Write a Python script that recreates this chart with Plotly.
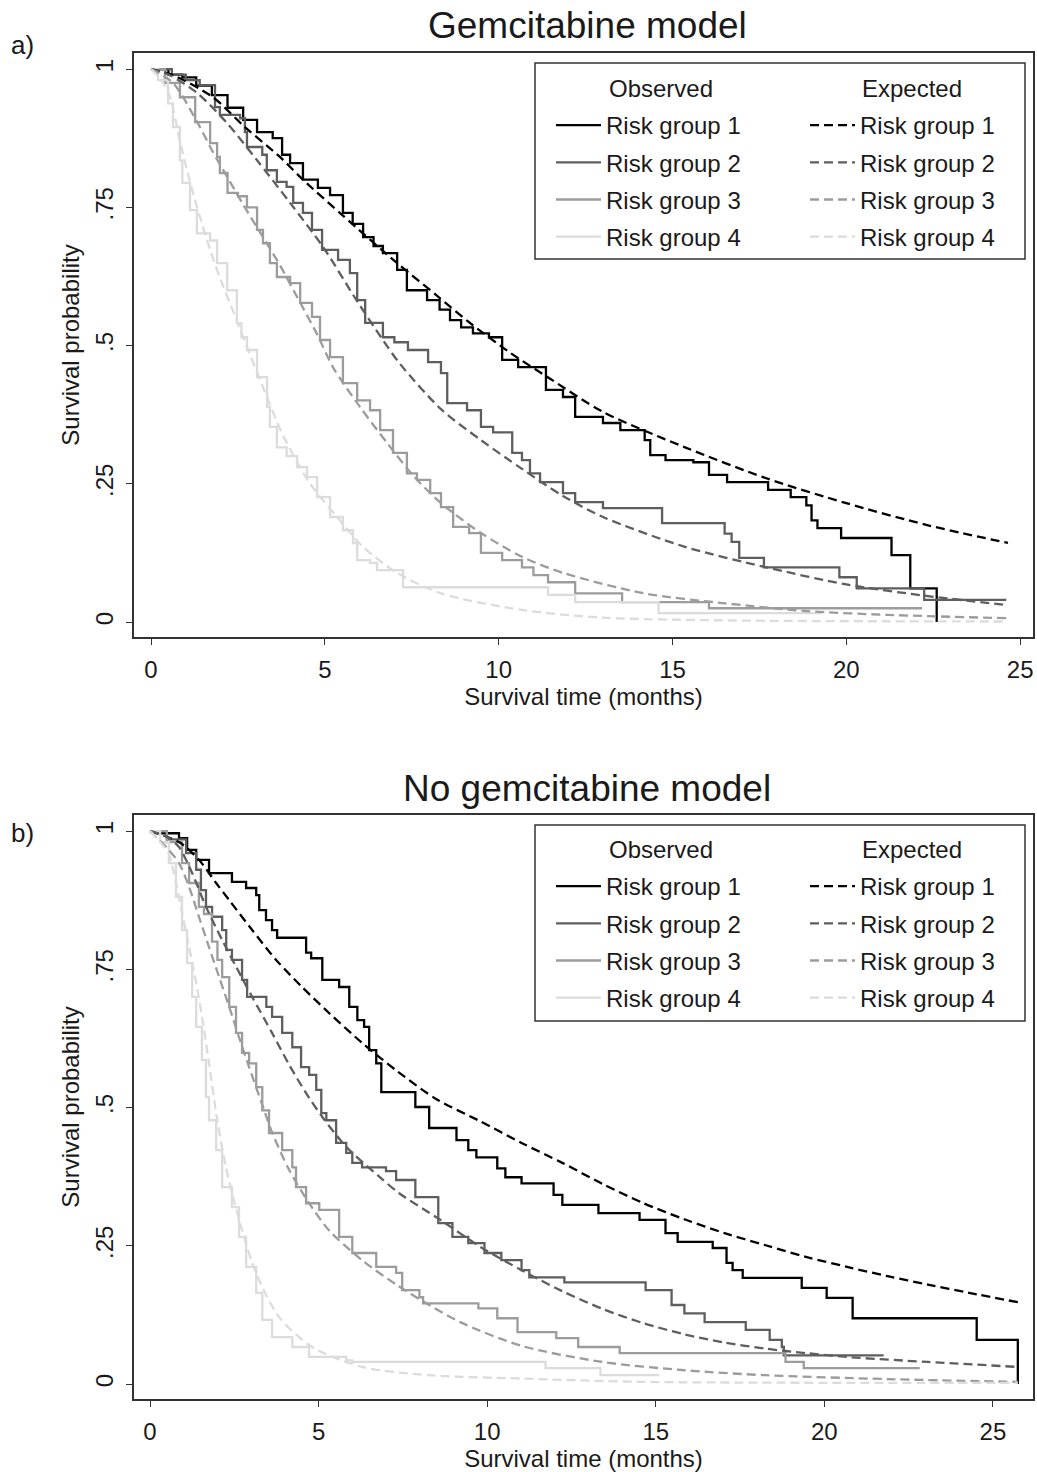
import plotly.graph_objects as go

# ---------------- data ----------------
time_ticks = [0, 5, 10, 15, 20, 25]
prob_ticks = [0, 0.25, 0.5, 0.75, 1]
prob_labels = ["0", ".25", ".5", ".75", "1"]
group_names = ["Risk group 1", "Risk group 2", "Risk group 3", "Risk group 4"]
panel_titles = ["Gemcitabine model", "No gemcitabine model"]
panel_letters = ["a)", "b)"]
x_title = "Survival time (months)"
y_title = "Survival probability"
obs_header = "Observed"
exp_header = "Expected"

# Panel a (Gemcitabine model) - observed Kaplan-Meier: (time, survival after step)
gem_obs_1 = [(0, 1), (0.5, 0.99), (0.9, 0.985), (1.3, 0.97), (1.75, 0.953), (2.2, 0.93), (2.65, 0.908),
             (3.05, 0.886), (3.5, 0.875), (3.77, 0.845), (4.0, 0.83), (4.37, 0.80), (4.8, 0.785), (5.15, 0.772),
             (5.52, 0.74), (5.8, 0.72), (6.1, 0.696), (6.4, 0.68), (6.67, 0.667), (7.08, 0.637), (7.36, 0.60),
             (7.94, 0.582), (8.3, 0.565), (8.6, 0.546), (8.92, 0.533), (9.26, 0.522), (9.72, 0.515), (10.1, 0.474),
             (10.56, 0.461), (11.36, 0.42), (11.85, 0.407), (12.2, 0.371), (13.0, 0.36), (13.5, 0.347),
             (14.2, 0.329), (14.36, 0.302), (14.8, 0.293), (15.6, 0.289), (16.05, 0.266), (16.57, 0.253),
             (17.75, 0.239), (18.4, 0.226), (18.85, 0.211), (19.0, 0.184), (19.17, 0.17), (19.85, 0.152),
             (21.3, 0.121), (21.84, 0.061), (22.6, 0.0)]
gem_obs_2 = [(0, 1), (0.6, 0.99), (1.0, 0.98), (1.4, 0.971), (1.84, 0.931), (1.98, 0.917), (2.56, 0.911),
             (2.7, 0.886), (2.76, 0.859), (3.2, 0.845), (3.33, 0.817), (3.62, 0.796), (3.9, 0.787), (4.09, 0.758),
             (4.37, 0.74), (4.63, 0.709), (4.92, 0.673), (5.38, 0.655), (5.72, 0.631), (5.93, 0.582), (6.16, 0.541),
             (6.67, 0.515), (7.0, 0.506), (7.39, 0.492), (7.97, 0.47), (8.34, 0.45), (8.52, 0.396), (9.09, 0.383),
             (9.49, 0.353), (9.84, 0.343), (10.39, 0.306), (10.67, 0.293), (10.9, 0.269), (11.19, 0.253),
             (11.85, 0.233), (12.2, 0.217), (13.0, 0.206), (14.7, 0.179), (16.5, 0.16), (16.7, 0.145),
             (16.92, 0.116), (17.63, 0.099), (19.8, 0.081), (20.3, 0.061), (22.24, 0.04), (24.6, 0.04)]
gem_obs_3 = [(0, 1), (0.4, 0.975), (0.83, 0.949), (1.27, 0.904), (1.7, 0.866), (1.9, 0.841), (1.98, 0.812),
             (2.2, 0.776), (2.5, 0.77), (2.76, 0.75), (3.05, 0.709), (3.22, 0.685), (3.42, 0.649), (3.62, 0.624),
             (4.0, 0.613), (4.29, 0.577), (4.63, 0.552), (4.86, 0.51), (5.15, 0.479), (5.52, 0.432), (5.93, 0.401),
             (6.3, 0.383), (6.59, 0.347), (6.96, 0.306), (7.36, 0.269), (7.65, 0.257), (8.03, 0.233), (8.34, 0.208),
             (8.69, 0.172), (9.15, 0.161), (9.49, 0.125), (10.1, 0.112), (10.67, 0.099), (11.0, 0.085),
             (11.42, 0.072), (12.2, 0.052), (13.55, 0.036), (16.05, 0.025), (22.18, 0.025)]
gem_obs_4 = [(0, 1), (0.2, 0.98), (0.49, 0.938), (0.63, 0.895), (0.83, 0.835), (0.9, 0.794), (1.12, 0.745),
             (1.32, 0.703), (1.7, 0.69), (1.9, 0.649), (2.19, 0.6), (2.47, 0.54), (2.6, 0.515), (2.76, 0.492),
             (3.05, 0.443), (3.34, 0.389), (3.42, 0.353), (3.62, 0.316), (3.9, 0.3), (4.2, 0.28), (4.49, 0.262),
             (4.78, 0.226), (5.15, 0.19), (5.52, 0.166), (5.81, 0.143), (5.93, 0.112), (6.3, 0.107), (6.5, 0.094),
             (7.25, 0.063), (11.42, 0.049), (12.2, 0.036), (14.6, 0.016), (19.3, 0.016)]

# Panel a - expected (model-predicted) survival
gem_exp_1 = [(0, 1), (0.63, 0.989), (1.78, 0.949), (2.7, 0.895), (3.71, 0.841), (4.37, 0.800), (5.52, 0.735),
             (7.08, 0.649), (8.23, 0.59), (9.09, 0.545), (10.33, 0.487), (11.48, 0.44), (13.0, 0.38),
             (15.36, 0.316), (17.7, 0.26), (20.0, 0.215), (22.35, 0.175), (24.65, 0.143)]
gem_exp_2 = [(0, 1), (0.5, 0.99), (1.32, 0.957), (2.19, 0.902), (3.05, 0.835), (4.0, 0.758), (4.95, 0.678),
             (5.93, 0.58), (6.67, 0.51), (7.16, 0.467), (8.34, 0.385), (9.49, 0.329), (10.67, 0.277),
             (11.85, 0.228), (13.0, 0.19), (15.36, 0.136), (17.7, 0.099), (20.0, 0.068), (22.35, 0.047),
             (24.6, 0.031)]
gem_exp_3 = [(0, 1), (0.63, 0.975), (1.32, 0.905), (1.78, 0.85), (2.19, 0.805), (2.65, 0.755), (3.22, 0.696),
             (3.71, 0.645), (4.2, 0.588), (4.78, 0.52), (5.24, 0.46), (6.01, 0.389), (6.79, 0.324), (7.54, 0.265),
             (8.34, 0.215), (9.49, 0.161), (10.67, 0.118), (11.85, 0.089), (14.18, 0.052), (16.5, 0.034),
             (18.84, 0.02), (21.2, 0.013), (24.6, 0.007)]
gem_exp_4 = [(0, 1), (0.3, 0.98), (0.55, 0.949), (0.83, 0.87), (1.12, 0.796), (1.41, 0.732), (1.7, 0.673),
             (2.07, 0.608), (2.47, 0.545), (2.65, 0.515), (3.22, 0.425), (3.8, 0.337), (4.57, 0.251), (5.35, 0.19),
             (6.1, 0.136), (7.08, 0.089), (8.34, 0.052), (10.67, 0.022), (13.0, 0.008), (16.5, 0.003),
             (24.6, 0.001)]

# Panel b (No gemcitabine model) - observed
nogem_obs_1 = [(0, 1), (0.36, 0.996), (0.86, 0.987), (1.1, 0.966), (1.37, 0.948), (1.75, 0.924), (2.43, 0.908),
               (2.85, 0.897), (3.15, 0.884), (3.24, 0.857), (3.44, 0.839), (3.62, 0.821), (3.77, 0.807),
               (4.63, 0.78), (4.78, 0.77), (5.11, 0.731), (5.61, 0.718), (5.91, 0.682), (6.15, 0.658),
               (6.35, 0.646), (6.5, 0.604), (6.71, 0.58), (6.86, 0.528), (7.87, 0.501), (8.28, 0.463),
               (9.09, 0.441), (9.44, 0.423), (9.68, 0.41), (10.3, 0.39), (10.54, 0.374), (11.02, 0.363),
               (11.97, 0.342), (12.23, 0.324), (13.3, 0.309), (14.52, 0.297), (15.29, 0.273), (15.65, 0.257),
               (16.69, 0.246), (17.1, 0.219), (17.28, 0.206), (17.58, 0.192), (19.33, 0.174), (20.07, 0.156),
               (20.84, 0.119), (24.52, 0.08), (25.74, 0.0)]
nogem_obs_2 = [(0, 1), (0.5, 0.985), (1.07, 0.96), (1.37, 0.93), (1.51, 0.893), (1.66, 0.863), (1.84, 0.845),
               (2.14, 0.821), (2.26, 0.785), (2.43, 0.767), (2.73, 0.731), (2.88, 0.70), (3.45, 0.682),
               (3.62, 0.664), (3.92, 0.635), (4.22, 0.609), (4.48, 0.573), (4.72, 0.559), (4.93, 0.532),
               (5.08, 0.49), (5.23, 0.477), (5.52, 0.436), (5.82, 0.418), (6.0, 0.40), (6.29, 0.392), (7.0, 0.385),
               (7.3, 0.369), (7.87, 0.338), (8.55, 0.291), (8.97, 0.266), (9.44, 0.255), (9.92, 0.237),
               (10.42, 0.224), (11.02, 0.206), (11.25, 0.193), (12.29, 0.184), (14.7, 0.17), (15.47, 0.143),
               (15.85, 0.128), (16.45, 0.112), (17.67, 0.098), (18.38, 0.08), (18.74, 0.067), (18.8, 0.052),
               (21.76, 0.052)]
nogem_obs_3 = [(0, 1), (0.5, 0.98), (0.95, 0.942), (1.16, 0.906), (1.45, 0.863), (1.6, 0.85), (1.84, 0.80),
               (2.0, 0.767), (2.14, 0.736), (2.35, 0.682), (2.55, 0.635), (2.73, 0.599), (2.94, 0.58),
               (3.15, 0.537), (3.33, 0.495), (3.53, 0.454), (3.92, 0.423), (4.22, 0.392), (4.33, 0.356),
               (4.63, 0.327), (5.02, 0.315), (5.61, 0.266), (6.0, 0.237), (6.71, 0.212), (7.3, 0.201),
               (7.48, 0.17), (7.99, 0.157), (8.1, 0.146), (9.74, 0.137), (10.3, 0.119), (10.9, 0.094),
               (12.05, 0.083), (12.7, 0.067), (13.93, 0.056), (18.85, 0.04), (19.39, 0.029), (22.83, 0.029)]
nogem_obs_4 = [(0, 1), (0.3, 0.98), (0.56, 0.942), (0.77, 0.881), (0.95, 0.821), (1.1, 0.761), (1.25, 0.7),
               (1.37, 0.646), (1.54, 0.586), (1.66, 0.519), (1.75, 0.477), (1.96, 0.423), (2.14, 0.356),
               (2.43, 0.32), (2.64, 0.266), (2.85, 0.212), (3.15, 0.165), (3.33, 0.116), (3.62, 0.085),
               (4.22, 0.067), (4.72, 0.049), (5.82, 0.043), (6.0, 0.04), (11.73, 0.029), (13.36, 0.016),
               (15.11, 0.016)]

# Panel b - expected
nogem_exp_1 = [(0, 1), (0.86, 0.98), (1.45, 0.948), (1.96, 0.906), (2.35, 0.875), (3.03, 0.821), (3.74, 0.767),
               (4.51, 0.718), (5.31, 0.671), (6.29, 0.617), (7.35, 0.565), (8.5, 0.515), (9.8, 0.475),
               (11.02, 0.436), (12.23, 0.4), (13.42, 0.362), (14.64, 0.327), (15.85, 0.298), (17.04, 0.273),
               (18.26, 0.251), (19.45, 0.23), (20.67, 0.212), (21.88, 0.195), (23.07, 0.18), (24.29, 0.165),
               (25.74, 0.148)]
nogem_exp_2 = [(0, 1), (0.5, 0.99), (0.86, 0.971), (1.25, 0.924), (1.66, 0.863), (2.14, 0.803), (2.55, 0.755),
               (3.03, 0.70), (3.62, 0.635), (4.13, 0.577), (4.63, 0.526), (5.11, 0.483), (5.82, 0.429),
               (6.8, 0.375), (7.39, 0.345), (8.61, 0.297), (9.8, 0.248), (11.02, 0.206), (12.23, 0.168),
               (13.42, 0.136), (14.64, 0.11), (15.85, 0.09), (17.04, 0.075), (18.26, 0.064), (19.45, 0.056),
               (20.67, 0.049), (23.07, 0.04), (25.74, 0.031)]
nogem_exp_3 = [(0, 1), (0.5, 0.97), (0.86, 0.942), (1.16, 0.899), (1.45, 0.845), (1.75, 0.79), (2.05, 0.736),
               (2.35, 0.682), (2.64, 0.627), (2.94, 0.573), (3.33, 0.505), (3.62, 0.455), (4.13, 0.387),
               (4.72, 0.327), (5.31, 0.278), (6.29, 0.224), (7.3, 0.18), (8.28, 0.143), (9.2, 0.112),
               (11.02, 0.069), (13.42, 0.04), (15.85, 0.025), (18.26, 0.016), (21.88, 0.009), (25.74, 0.004)]
nogem_exp_4 = [(0, 1), (0.3, 0.98), (0.56, 0.958), (0.77, 0.906), (0.95, 0.852), (1.16, 0.79), (1.37, 0.725),
               (1.54, 0.665), (1.75, 0.58), (2.0, 0.475), (2.26, 0.39), (2.73, 0.278), (3.15, 0.2), (3.83, 0.121),
               (4.81, 0.067), (6.29, 0.031), (8.28, 0.016), (11.02, 0.01), (14.64, 0.004), (25.74, 0.002)]

gem_observed = [gem_obs_1, gem_obs_2, gem_obs_3, gem_obs_4]
gem_expected = [gem_exp_1, gem_exp_2, gem_exp_3, gem_exp_4]
nogem_observed = [nogem_obs_1, nogem_obs_2, nogem_obs_3, nogem_obs_4]
nogem_expected = [nogem_exp_1, nogem_exp_2, nogem_exp_3, nogem_exp_4]

# ---------------- styling ----------------
W, H = 1037, 1472
FONT = "Arial, 'Liberation Sans', sans-serif"
TXT = "#1a1a1a"
colors = ["#000000", "#5e5e5e", "#9c9c9c", "#dcdcdc"]
LW = 2.3
DASH = "9px,5px"


def px_x(p):
    return p / W


def px_y(p):
    return 1 - p / H


fig = go.Figure()

panels = [
    dict(obs=gem_observed, exp=gem_expected, xa="x", ya="y", lg_obs="legend", lg_exp="legend2", tag="a"),
    dict(obs=nogem_observed, exp=nogem_expected, xa="x2", ya="y2", lg_obs="legend3", lg_exp="legend4", tag="b"),
]

for p in panels:
    for i in range(4):
        t, s = zip(*p["obs"][i])
        fig.add_trace(go.Scatter(
            x=list(t), y=list(s), mode="lines", name=group_names[i],
            line=dict(color=colors[i], width=LW, shape="hv"),
            xaxis=p["xa"], yaxis=p["ya"], legend=p["lg_obs"],
            legendgroup=f"{p['tag']}o{i}", hoverinfo="skip"))
    for i in range(4):
        t, s = zip(*p["exp"][i])
        fig.add_trace(go.Scatter(
            x=list(t), y=list(s), mode="lines", name=group_names[i],
            line=dict(color=colors[i], width=LW, dash=DASH, shape="spline", smoothing=0.8),
            xaxis=p["xa"], yaxis=p["ya"], legend=p["lg_exp"],
            legendgroup=f"{p['tag']}e{i}", hoverinfo="skip"))

x_dom = [px_x(134), px_x(1033)]
dom_a = [px_y(637), px_y(53)]
dom_b = [px_y(1399), px_y(815)]

axis_common = dict(
    showline=True, mirror=True, linecolor="#333333", linewidth=1.6,
    ticks="outside", ticklen=6, tickwidth=1.3, tickcolor="#333333",
    showgrid=False, zeroline=False,
    tickfont=dict(family=FONT, size=24, color=TXT),
)

fig.update_layout(
    width=W, height=H,
    margin=dict(l=0, r=0, t=0, b=0),
    paper_bgcolor="white", plot_bgcolor="white",
    font=dict(family=FONT, color=TXT),
    xaxis=dict(domain=x_dom, anchor="y", range=[-0.49, 25.37], tickvals=time_ticks,
               title=dict(text=x_title, font=dict(family=FONT, size=24, color=TXT), standoff=2),
               ticklabelstandoff=4, **axis_common),
    yaxis=dict(domain=dom_a, anchor="x", range=[-0.027, 1.029], tickvals=prob_ticks, ticktext=prob_labels,
               tickangle=-90, ticklabelstandoff=4,
               title=dict(text=y_title, font=dict(family=FONT, size=24, color=TXT), standoff=4),
               **axis_common),
    xaxis2=dict(domain=x_dom, anchor="y2", range=[-0.475, 26.19], tickvals=time_ticks,
                title=dict(text=x_title, font=dict(family=FONT, size=24, color=TXT), standoff=2),
                ticklabelstandoff=4, **axis_common),
    yaxis2=dict(domain=dom_b, anchor="x2", range=[-0.027, 1.029], tickvals=prob_ticks, ticktext=prob_labels,
                tickangle=-90, ticklabelstandoff=4,
                title=dict(text=y_title, font=dict(family=FONT, size=24, color=TXT), standoff=4),
                **axis_common),
    showlegend=True,
)

legend_common = dict(
    bgcolor="rgba(0,0,0,0)", borderwidth=0, font=dict(family=FONT, size=24, color=TXT),
    xanchor="left", yanchor="top", orientation="v", itemwidth=45, tracegroupgap=3,
    itemclick=False, itemdoubleclick=False,
)
legend_tops = {"a": 103, "b": 864}
for p in panels:
    top = legend_tops[p["tag"]]
    fig.update_layout({
        p["lg_obs"]: dict(x=px_x(551), y=px_y(top), **legend_common),
        p["lg_exp"]: dict(x=px_x(805), y=px_y(top), **legend_common),
    })

# legend boxes and headers
boxes = {"a": (63, 259, 88), "b": (825, 1021, 849)}
for tag, (top, bot, hy) in boxes.items():
    fig.add_shape(type="rect", xref="paper", yref="paper",
                  x0=px_x(535), x1=px_x(1025), y0=px_y(bot), y1=px_y(top),
                  line=dict(color="#333333", width=1.5), fillcolor="rgba(0,0,0,0)", layer="above")
    fig.add_annotation(xref="paper", yref="paper", x=px_x(607), y=px_y(hy), xanchor="left", yanchor="middle",
                       text=obs_header, showarrow=False, font=dict(family=FONT, size=24, color=TXT))
    fig.add_annotation(xref="paper", yref="paper", x=px_x(860), y=px_y(hy), xanchor="left", yanchor="middle",
                       text=exp_header, showarrow=False, font=dict(family=FONT, size=24, color=TXT))

# panel titles and letters
for title, ty in zip(panel_titles, [26, 788]):
    fig.add_annotation(xref="paper", yref="paper", x=px_x(587), y=px_y(ty), xanchor="center", yanchor="middle",
                       text=title, showarrow=False, font=dict(family=FONT, size=37, color=TXT))
for letter, ly in zip(panel_letters, [45, 833]):
    fig.add_annotation(xref="paper", yref="paper", x=px_x(9), y=px_y(ly), xanchor="left", yanchor="middle",
                       text=letter, showarrow=False, font=dict(family=FONT, size=26, color=TXT))

fig.write_html("out.html")
